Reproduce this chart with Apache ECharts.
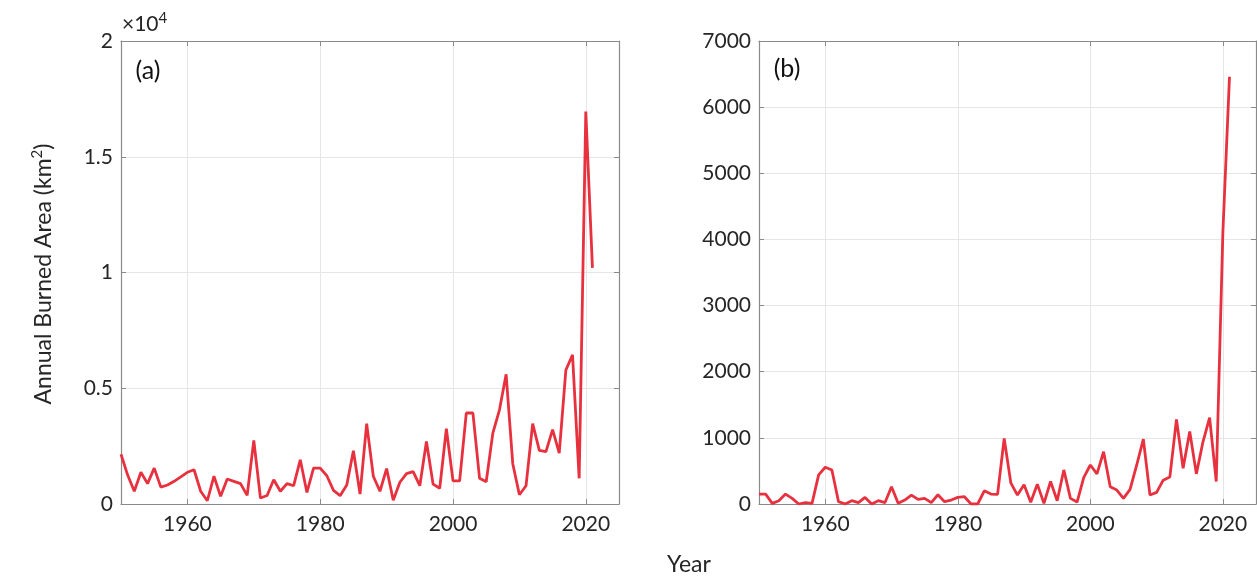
<!DOCTYPE html>
<html>
<head>
<meta charset="utf-8">
<script src="https://cdn.jsdelivr.net/npm/echarts@6/dist/echarts.min.js"></script>
<style>
html,body{margin:0;padding:0;background:#fff;}
#chart{width:1257px;height:576px;}
</style>
</head>
<body>
<div id="chart"></div>
<script>
const years = [1950,1951,1952,1953,1954,1955,1956,1957,1958,1959,
  1960,1961,1962,1963,1964,1965,1966,1967,1968,1969,
  1970,1971,1972,1973,1974,1975,1976,1977,1978,1979,
  1980,1981,1982,1983,1984,1985,1986,1987,1988,1989,
  1990,1991,1992,1993,1994,1995,1996,1997,1998,1999,
  2000,2001,2002,2003,2004,2005,2006,2007,2008,2009,
  2010,2011,2012,2013,2014,2015,2016,2017,2018,2019,
  2020,2021];
const areaA = [2150,1250,550,1370,880,1550,730,820,980,1170,
  1370,1480,550,140,1200,330,1080,980,880,370,
  2750,260,370,1050,550,880,790,1910,500,1550,
  1550,1220,590,360,820,2300,430,3470,1200,550,
  1530,160,940,1310,1400,790,2700,860,680,3250,
  1000,1000,3930,3930,1110,960,3060,4070,5600,1740,
  400,790,3470,2320,2260,3210,2200,5790,6440,1110,
  16950,10200];
const areaB = [150,150,10,50,150,85,0,20,10,440,
  555,515,35,0,50,20,100,0,50,20,
  260,10,60,135,70,85,20,140,35,60,
  100,110,0,0,200,150,145,990,320,135,
  290,25,300,10,340,50,515,85,30,400,
  590,455,790,260,210,85,220,590,980,135,
  175,360,410,1280,540,1095,455,940,1305,340,
  4100,6460];
const xTicks = [1960,1980,2000,2020];

const FONT = 'Lato, "Noto Sans", sans-serif';
const TXT = '#262626';
const AX = '#8a8a8a';
const GRIDC = '#e6e6e6';
const RED = '#e8313e';
const FS = 21;

const chart = echarts.init(document.getElementById('chart'), null, {renderer:'canvas'});

function xAx(gi, pos){
  const bottom = pos === 'bottom';
  return {
    type:'value', gridIndex:gi, position:pos, min:1950, max:2025,
    axisLine:{show:true, onZero:false, lineStyle:{color:AX, width:1.2}},
    axisTick:{show:true, inside:true, length:5, customValues:xTicks, lineStyle:{color:AX}},
    axisLabel:{show:bottom, customValues:xTicks, fontSize:FS, color:TXT, fontFamily:FONT, margin:10,
      formatter:v=>String(v)},
    splitLine:{show:bottom, lineStyle:{color:GRIDC, width:1}}
  };
}
function yAx(gi, pos, max, interval, fmt){
  const left = pos === 'left';
  return {
    type:'value', gridIndex:gi, position:pos, min:0, max:max, interval:interval,
    axisLine:{show:true, onZero:false, lineStyle:{color:AX, width:1.2}},
    axisTick:{show:true, inside:true, length:5, lineStyle:{color:AX}},
    axisLabel:{show:left, fontSize:FS, color:TXT, fontFamily:FONT, margin:8, formatter:fmt},
    splitLine:{show:left, lineStyle:{color:GRIDC, width:1}}
  };
}

const option = {
  backgroundColor:'#fff',
  animation:false,
  grid:[
    {left:121, top:41, width:498, height:463},
    {left:759, top:41, width:497, height:463}
  ],
  xAxis:[xAx(0,'bottom'), xAx(0,'top'), xAx(1,'bottom'), xAx(1,'top')],
  yAxis:[
    yAx(0,'left',20000,5000,v=>String(v/10000)),
    yAx(0,'right',20000,5000,null),
    yAx(1,'left',7000,1000,v=>String(v)),
    yAx(1,'right',7000,1000,null)
  ],
  series:[
    {type:'line', xAxisIndex:0, yAxisIndex:0, showSymbol:false,
     lineStyle:{color:RED, width:2.8}, data:years.map((y,i)=>[y, areaA[i]])},
    {type:'line', xAxisIndex:2, yAxisIndex:2, showSymbol:false,
     lineStyle:{color:RED, width:2.8}, data:years.map((y,i)=>[y, areaB[i]])}
  ],
  graphic:[
    {type:'text', x:44, y:274, rotation:Math.PI/2,
     style:{text:'{n|Annual Burned Area (km}{s|2}{n|)}', align:'center', verticalAlign:'middle',
       rich:{n:{fontSize:23, fontFamily:FONT, fill:TXT, lineHeight:28},
             s:{fontSize:15, fontFamily:FONT, fill:TXT, verticalAlign:'top', lineHeight:28}}}},
    {type:'text', x:689, y:565,
     style:{text:'Year', align:'center', verticalAlign:'middle', fontSize:23, fontFamily:FONT, fill:TXT}},
    {type:'text', x:122, y:24,
     style:{text:'{n|\u00d710}{s|4}', align:'left', verticalAlign:'middle',
       rich:{n:{fontSize:21, fontFamily:FONT, fill:TXT, lineHeight:26},
             s:{fontSize:15, fontFamily:FONT, fill:TXT, verticalAlign:'top', lineHeight:26}}}},
    {type:'text', x:148, y:71,
     style:{text:'(a)', align:'center', verticalAlign:'middle', fontSize:25, fontFamily:FONT, fill:'#111'}},
    {type:'text', x:787, y:69,
     style:{text:'(b)', align:'center', verticalAlign:'middle', fontSize:25, fontFamily:FONT, fill:'#111'}}
  ]
};
chart.setOption(option);
</script>
</body>
</html>
